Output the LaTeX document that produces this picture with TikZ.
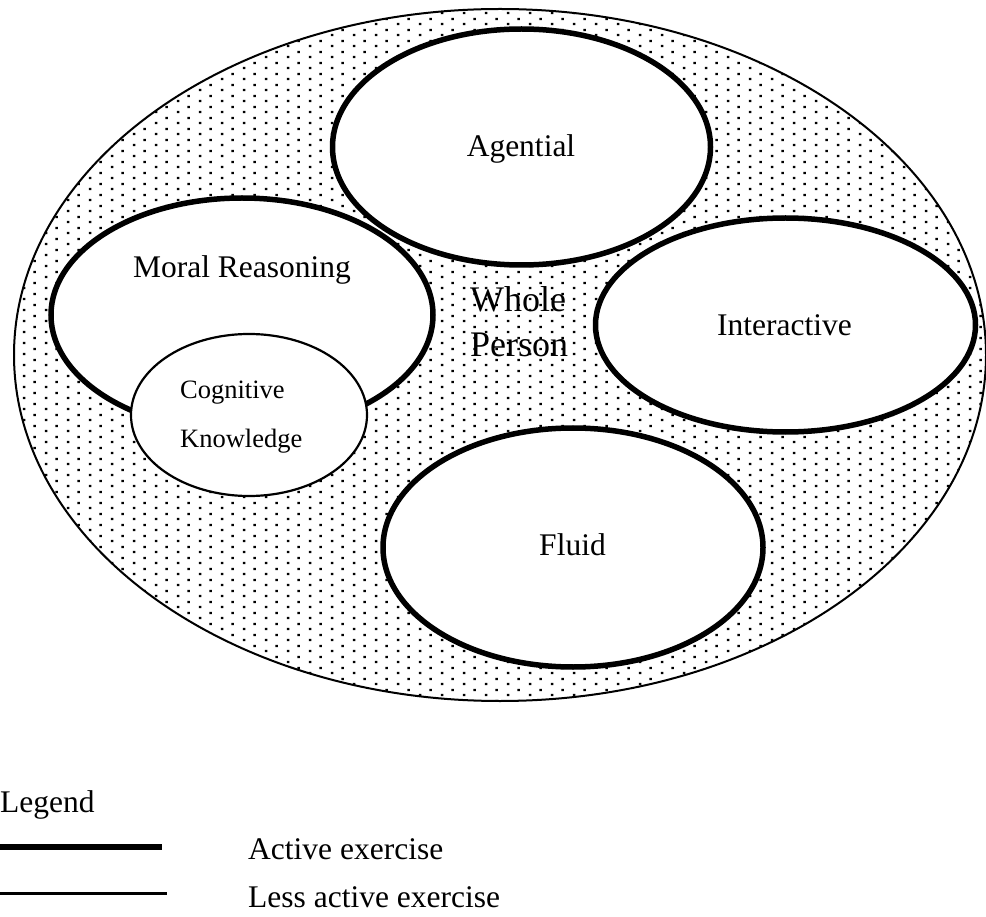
\documentclass[tikz,border=0pt]{standalone}
\usepackage{fontspec}
\setmainfont{Liberation Serif}
\usetikzlibrary{patterns}

% staggered dot stipple: rows every 5.5pt, dots every 22pt, alternate rows shifted by 11pt
\pgfdeclarepatternformonly{stipple}{\pgfpointorigin}{\pgfpoint{22pt}{11pt}}{\pgfpoint{22pt}{11pt}}{%
  \pgfpathrectangle{\pgfpoint{1pt}{1pt}}{\pgfpoint{2.4pt}{2.4pt}}%
  \pgfpathrectangle{\pgfpoint{12pt}{6.5pt}}{\pgfpoint{2.4pt}{2.4pt}}%
  \pgfusepath{fill}}

\tikzset{
  field/.style={draw=black, line width=2pt, pattern=stipple, pattern color=black},
  active/.style={draw=black, line width=5.5pt},
  lessactive/.style={draw=black, line width=2.2pt, fill=white},
  lbl/.style={font=\fontsize{31.5}{36}\selectfont, inner sep=0pt, anchor=base},
  small/.style={font=\fontsize{26.5}{30}\selectfont, inner sep=0pt, anchor=base west},
  big/.style={font=\fontsize{36}{42}\selectfont, inner sep=0pt, anchor=base west},
  legendtext/.style={font=\fontsize{31.5}{36}\selectfont, inner sep=0pt, anchor=base west},
}

\begin{document}
\begin{tikzpicture}[x=1pt, y=-1pt]
  \useasboundingbox (0,0) rectangle (986,917);
  \fill[white] (0,0) rectangle (986,917);

  % the whole person: stippled field
  \path[field] (500,355) ellipse [x radius=486pt, y radius=346pt];

  % white interiors of the actively exercised dimensions
  \fill[white] (521.5,147) ellipse [x radius=189pt, y radius=118pt];
  \fill[white] (242,315) ellipse [x radius=191pt, y radius=117pt];
  \fill[white] (785.5,325) ellipse [x radius=190pt, y radius=107pt];
  \fill[white] (573,547.5) ellipse [x radius=190pt, y radius=119.5pt];

  % their outlines
  \draw[active] (521.5,147) ellipse [x radius=189pt, y radius=118pt];
  \draw[active] (242,315) ellipse [x radius=191pt, y radius=117pt];
  \draw[active] (785.5,325) ellipse [x radius=190pt, y radius=107pt];
  \draw[active] (573,547.5) ellipse [x radius=190pt, y radius=119.5pt];

  % less actively exercised dimension, on top of moral reasoning
  \draw[lessactive] (249,415) ellipse [x radius=118pt, y radius=81pt];

  % labels
  \node[lbl] (agential) at (521,157) {Agential};
  \node[lbl] (moral) at (242,278) {Moral Reasoning};
  \node[lbl] (interactive) at (784.5,336) {Interactive};
  \node[lbl] (fluid) at (572.5,555) {Fluid};
  \node[small] (cog1) at (180,399) {Cognitive};
  \node[small] (cog2) at (180,447) {Knowledge};
  \node[big] (whole1) at (470,312) {Whole};
  \node[big] (whole2) at (470,357) {Person};

  % legend
  \node[legendtext] (legend) at (0,812) {Legend};
  \coordinate (la1) at (0,846.5);
  \coordinate (la2) at (162,846.5);
  \coordinate (lb1) at (0,893.5);
  \coordinate (lb2) at (167,893.5);
  \draw[line width=6pt] (la1) -- (la2);
  \draw[line width=2.5pt] (lb1) -- (lb2);
  \node[legendtext] (lgactive) at (248,859) {Active exercise};
  \node[legendtext] (lgless) at (248,907) {Less active exercise};
\end{tikzpicture}
\end{document}
